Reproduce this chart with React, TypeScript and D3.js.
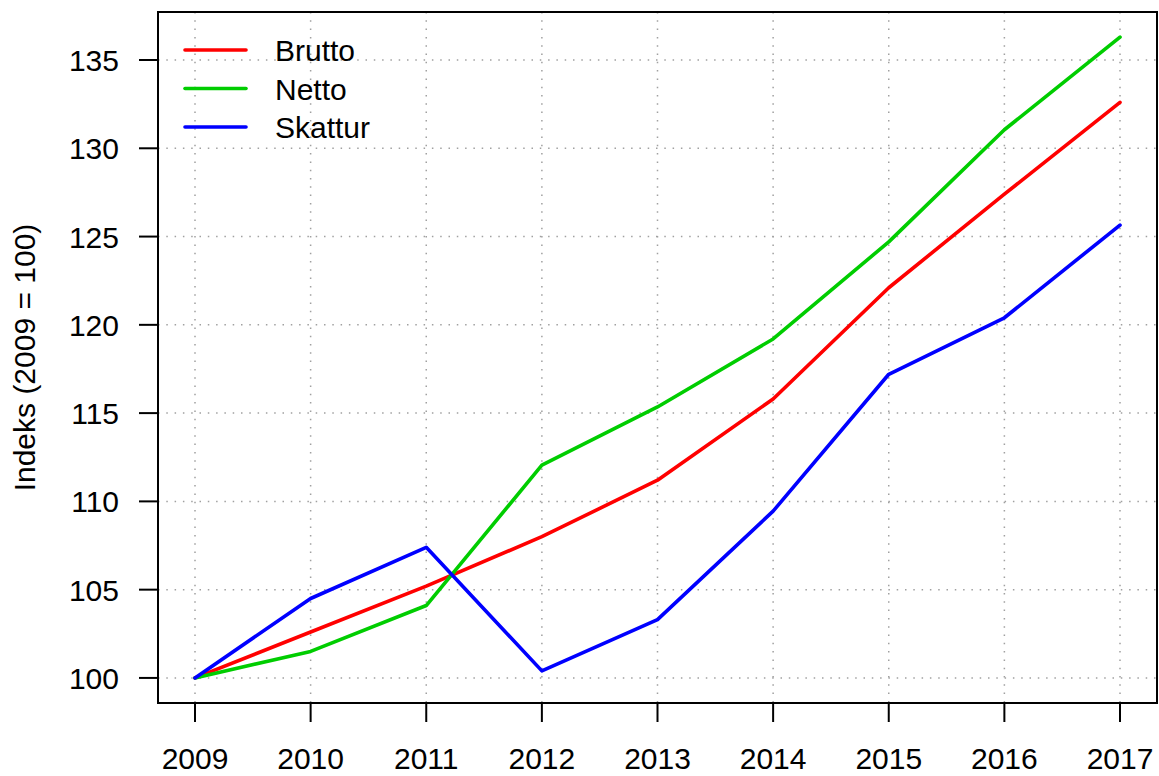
import React, { useEffect, useRef } from 'react';
import * as d3 from 'd3';

const years = [2009, 2010, 2011, 2012, 2013, 2014, 2015, 2016, 2017];
const brutto = [100, 102.6, 105.2, 108.0, 111.2, 115.8, 122.1, 127.4, 132.6];
const netto = [100, 101.5, 104.1, 112.05, 115.35, 119.2, 124.7, 131.05, 136.3];
const skattur = [100, 104.5, 107.4, 100.4, 103.3, 109.45, 117.2, 120.4, 125.65];
const yTicks = [100, 105, 110, 115, 120, 125, 130, 135];
const seriesNames = ['Brutto', 'Netto', 'Skattur'];
const seriesColors = ['#ff0000', '#00cd00', '#0000ff'];

const WIDTH = 1159;
const HEIGHT = 776;

const App: React.FC = () => {
    const svgRef = useRef<SVGSVGElement>(null);

    useEffect(() => {
        if (!svgRef.current) return;
        const svg = d3.select(svgRef.current);
        svg.selectAll('*').remove();

        const margin = { top: 12, right: 2, bottom: 73, left: 158 };
        const font = 'Liberation Sans, Arial, Helvetica, sans-serif';

        // R style 4% padding on both axes
        const x = d3.scaleLinear()
            .domain([2009 - 0.32, 2017 + 0.32])
            .range([margin.left, WIDTH - margin.right]);
        const y = d3.scaleLinear()
            .domain([98.58, 137.72])
            .range([HEIGHT - margin.bottom, margin.top]);

        const x0 = margin.left;
        const x1 = WIDTH - margin.right;
        const y0 = margin.top;
        const y1 = HEIGHT - margin.bottom;

        // grid
        const grid = svg.append('g')
            .attr('stroke', '#a0a0a0')
            .attr('stroke-width', 1.5)
            .attr('stroke-dasharray', '1.5 6.8');
        years.forEach(yr => {
            grid.append('line')
                .attr('x1', x(yr)).attr('x2', x(yr))
                .attr('y1', y0).attr('y2', y1);
        });
        yTicks.forEach(v => {
            grid.append('line')
                .attr('x1', x0).attr('x2', x1)
                .attr('y1', y(v)).attr('y2', y(v));
        });

        // series
        const line = d3.line<number>()
            .x((_, i) => x(years[i]))
            .y(d => y(d));
        [brutto, netto, skattur].forEach((s, i) => {
            svg.append('path')
                .datum(s)
                .attr('fill', 'none')
                .attr('stroke', seriesColors[i])
                .attr('stroke-width', 3.6)
                .attr('stroke-linejoin', 'round')
                .attr('stroke-linecap', 'round')
                .attr('d', line);
        });

        // box
        svg.append('rect')
            .attr('x', x0).attr('y', y0)
            .attr('width', x1 - x0).attr('height', y1 - y0)
            .attr('fill', 'none')
            .attr('stroke', 'black')
            .attr('stroke-width', 2);

        // x axis
        const xAxis = svg.append('g');
        years.forEach(yr => {
            xAxis.append('line')
                .attr('x1', x(yr)).attr('x2', x(yr))
                .attr('y1', y1).attr('y2', y1 + 19)
                .attr('stroke', 'black').attr('stroke-width', 2);
            xAxis.append('text')
                .attr('x', x(yr)).attr('y', 769)
                .attr('text-anchor', 'middle')
                .attr('font-family', font)
                .attr('font-size', 30)
                .text(yr);
        });

        // y axis
        const yAxis = svg.append('g');
        yTicks.forEach(v => {
            yAxis.append('line')
                .attr('x1', x0 - 19).attr('x2', x0)
                .attr('y1', y(v)).attr('y2', y(v))
                .attr('stroke', 'black').attr('stroke-width', 2);
            yAxis.append('text')
                .attr('x', 119).attr('y', y(v) + 11)
                .attr('text-anchor', 'end')
                .attr('font-family', font)
                .attr('font-size', 30)
                .text(v);
        });

        svg.append('text')
            .attr('transform', `translate(35,${(y0 + y1) / 2}) rotate(-90)`)
            .attr('text-anchor', 'middle')
            .attr('font-family', font)
            .attr('font-size', 30)
            .text('Indeks (2009 = 100)');

        // legend
        const legend = svg.append('g');
        seriesNames.forEach((name, i) => {
            const ly = 50 + i * 38.5;
            legend.append('line')
                .attr('x1', 185).attr('x2', 246)
                .attr('y1', ly).attr('y2', ly)
                .attr('stroke', seriesColors[i])
                .attr('stroke-width', 3.6)
                .attr('stroke-linecap', 'round');
            legend.append('text')
                .attr('x', 275).attr('y', ly + 11)
                .attr('font-family', font)
                .attr('font-size', 30)
                .text(name);
        });
    }, []);

    return (
        <div style={{ position: 'absolute', left: 0, top: 0 }}>
            <svg ref={svgRef} width={WIDTH} height={HEIGHT} style={{ display: 'block', background: 'white' }} />
        </div>
    );
};

export default App;
